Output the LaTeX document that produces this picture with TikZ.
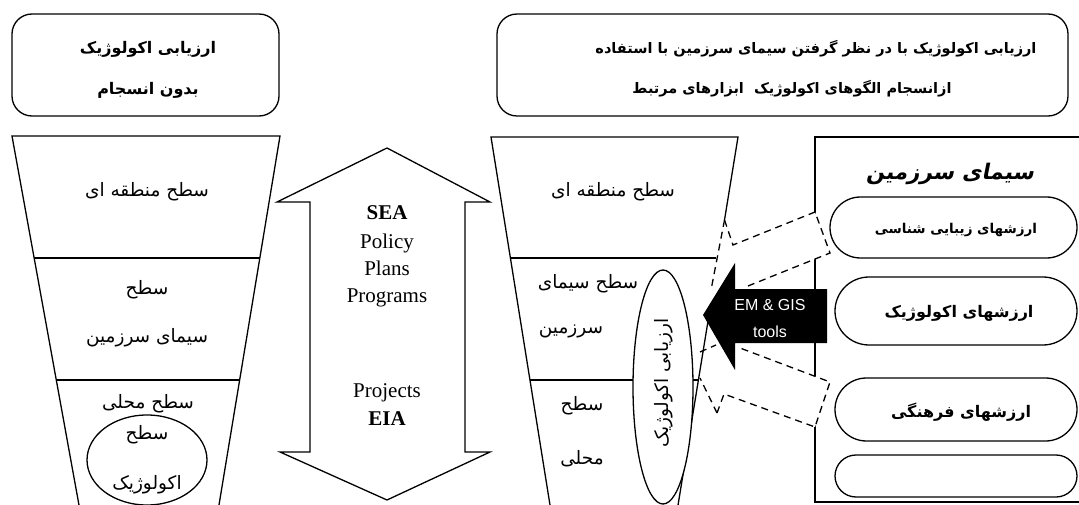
\documentclass[tikz,border=0pt]{standalone}
\usepackage{fontspec}
\setmainfont{Liberation Serif}
\newfontfamily\fa[Script=Arabic]{DejaVu Sans}
\newfontfamily\fatitle[Script=Arabic,FakeSlant=0.2]{DejaVu Sans}
\newfontfamily\lsans{Liberation Sans}
\TeXXeTstate=1
\newcommand\rtl[1]{\beginR#1\endR}
\tikzset{
  ln/.style={draw=black, line width=1.3pt},
  dsh/.style={draw=black, line width=1.3pt, dash pattern=on 7pt off 5pt},
  fa/.style={font=\fa\fontsize{18.5}{22}\selectfont, inner sep=0pt},
  fab/.style={font=\fa\bfseries\fontsize{16}{19}\selectfont, inner sep=0pt},
  lat/.style={font=\fontsize{21}{24}\selectfont, inner sep=0pt, anchor=base},
  latb/.style={font=\bfseries\fontsize{21}{24}\selectfont, inner sep=0pt, anchor=base},
  pill/.style={ln, fill=white},
}
\begin{document}
\begin{tikzpicture}[x=1pt,y=-1pt]
\useasboundingbox (0,0) rectangle (1079,505);
\clip (0,0) rectangle (1079,505);
% header boxes
\draw[ln, rounded corners=20pt] (12,14) rectangle (279,116);
\node[fab] (h1a) at (148,49) {\rtl{ارزیابی اکولوژیک}};
\node[fab] (h1b) at (148,90) {\rtl{بدون انسجام}};
\draw[ln, rounded corners=20pt] (497,14) rectangle (1068,116);
\node[fab, font=\fa\bfseries\fontsize{14.5}{17}\selectfont] (h2a) at (816,49) {\rtl{ارزیابی اکولوژیک با در نظر گرفتن سیمای سرزمین با استفاده}};
\node[fab, font=\fa\bfseries\fontsize{14.5}{17}\selectfont] (h2b) at (792,89) {\rtl{ازانسجام الگوهای اکولوژیک\ \ ابزارهای مرتبط}};
% left funnel
\draw[ln] (81.7,520) -- (12,136) -- (280,136) -- (216.5,520);
\draw[ln] (34.2,258) -- (259.8,258);
\draw[ln] (56.3,380) -- (239.7,380);
\node[fa] (l1) at (147,192) {\rtl{سطح منطقه ای}};
\node[fa] (l2) at (147,290) {\rtl{سطح}};
\node[fa] (l3) at (147,338) {\rtl{سیمای سرزمین}};
\node[fa] (l4) at (148,404) {\rtl{سطح محلی}};
\draw[ln, fill=white] (147,460) ellipse [x radius=60, y radius=45];
\node[fa] (l5) at (147,435) {\rtl{سطح}};
\node[fa] (l6) at (147,485) {\rtl{اکولوژیک}};
% double arrow
\draw[ln, line join=miter] (387,148) -- (490,202) -- (465,202) -- (465,452) -- (490,452) -- (387,500) -- (280,452) -- (310,452) -- (310,202) -- (277,202) -- cycle;
\node[latb] (t1) at (387,220) {SEA};
\node[lat] (t2) at (387,248) {Policy};
\node[lat] (t3) at (387,276) {Plans};
\node[lat] (t4) at (387,302) {Programs};
\node[lat] (t5) at (387,397) {Projects};
\node[latb] (t6) at (387,425) {EIA};
% right funnel
\draw[ln] (552.4,520) -- (491,137) -- (738,137) -- (724.5,220);
\draw[ln] (710.3,307) -- (675.6,520);
\draw[ln] (510.4,258) -- (716,258);
\draw[ln] (530,380) -- (698.4,380);
\node[fa] (r1) at (613,192) {\rtl{سطح منطقه ای}};
\node[fa] (r2) at (588,284) {\rtl{سطح سیمای}};
\node[fa] (r3) at (571,331) {\rtl{سرزمین}};
\node[fa] (r4) at (582,406) {\rtl{سطح}};
\node[fa] (r5) at (582,459) {\rtl{محلی}};
\draw[ln, fill=white] (663,387) ellipse [x radius=30, y radius=117];
\node[fa, rotate=90] (re) at (664,383) {\rtl{ارزیابی اکولوژیک}};
% right panel
\draw[ln] (1100,137) -- (815,137) -- (815,502) -- (1100,502);
\node[font=\fatitle\bfseries\fontsize{21.5}{25}\selectfont, inner sep=0pt] (pt) at (950,174) {\rtl{سیمای سرزمین}};
\draw[pill, rounded corners=30.5pt] (830,197) rectangle (1077,258);
\node[fab, font=\fa\bfseries\fontsize{13.5}{16}\selectfont] (p1) at (956,230) {\rtl{ارزشهای زیبایی شناسی}};
\draw[pill, rounded corners=34pt] (835,277) rectangle (1077,345);
\node[fab, font=\fa\bfseries\fontsize{16}{19}\selectfont] (p2) at (959,313) {\rtl{ارزشهای اکولوژیک}};
\draw[pill, rounded corners=31.5pt] (835,378) rectangle (1077,441);
\node[fab, font=\fa\bfseries\fontsize{16}{19}\selectfont] (p3) at (961,412) {\rtl{ارزشهای فرهنگی}};
\draw[pill, rounded corners=21pt] (835,455) rectangle (1077,497);
% dashed beams
\fill[white] (733,245) -- (815,212) -- (830,253) -- (748,286) -- cycle;
\draw[dsh] (724.5,220) -- (733,245) -- (815,212) -- (830,253) -- (748,286);
\fill[white] (740,348) -- (830,382) -- (815,427) -- (724,394) -- cycle;
\draw[dsh] (717,413) -- (724,394) -- (815,427) -- (830,382) -- (740,348);
\draw[dsh] (724.5,220) -- (711,290);
\draw[dsh] (717,413) -- (700,378);
\draw[dsh] (700,352) -- (716,345);
% black arrow
\fill[black] (703,315) -- (735,263) -- (735,289) -- (827,289) -- (827,343) -- (735,343) -- (735,370) -- cycle;
\node[font=\lsans\fontsize{16}{19}\selectfont, text=white, inner sep=0pt] (a1) at (770,305) {EM \& GIS};
\node[font=\lsans\fontsize{16}{19}\selectfont, text=white, inner sep=0pt] (a2) at (770,332) {tools};
\end{tikzpicture}
\end{document}
